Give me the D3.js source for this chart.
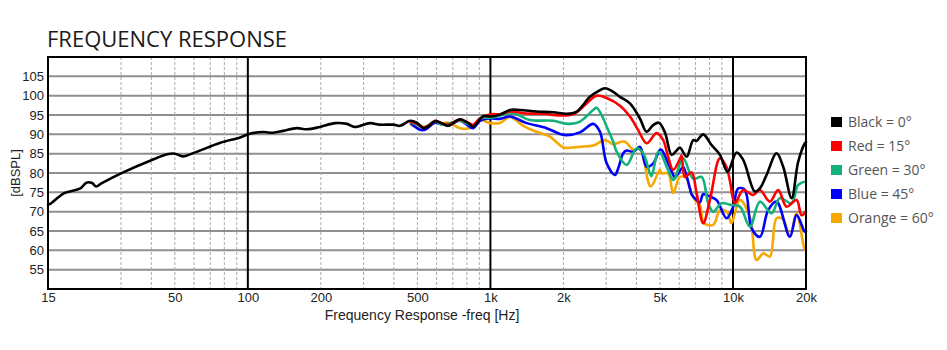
<!DOCTYPE html>
<html>
<head>
<meta charset="utf-8">
<script src="https://cdn.jsdelivr.net/npm/d3@7"></script>
<style>
  html, body { margin: 0; padding: 0; background: #fff; }
  svg { display: block; }
  .tick text { font-family: "Liberation Sans", Arial, sans-serif; font-size: 13px; fill: #222; }
</style>
</head>
<body>
<svg id="chart" width="947" height="350"></svg>
<script>
// Frequency response of a loudspeaker measured at five off-axis angles.
// Each series: [frequency in Hz, level in dBSPL].

const black0 = [
  [15,71.8],[15.3,72],[17.5,74.8],[20.4,76.0],[21.6,77.5],[22.8,77.4],[23.7,76.5],[24.9,77.3],
  [30,79.9],[40,83.3],[47,84.9],[50,85.0],[54,84.3],[61,85.4],[77,87.8],[93,89.2],[101,90.1],
  [116,90.6],[127,90.4],[140,90.9],[159,91.6],[175,91.3],[198,91.9],[229,92.9],[256,92.7],
  [276,91.9],[319,92.9],[350,92.5],[398,92.5],[424,92.2],[466,93.5],[497,93.0],[529,91.6],
  [554,92.0],[591,93.4],[630,92.9],[670,92.2],[749,93.9],[810,92.9],[850,92.0],[934,94.7],
  [1012,94.6],[1094,95.1],[1203,96.3],[1323,96.3],[1550,95.9],[1816,95.7],[2062,95.3],
  [2267,95.9],[2572,99.7],[2740,100.9],[2966,101.9],[3209,101.0],[3420,99.7],[3760,98.0],
  [4133,94.1],[4404,90.7],[4690,92.4],[4950,93.0],[5241,90.5],[5585,84.7],[5856,85.8],
  [6042,86.6],[6439,84.2],[6855,88.5],[7079,88.3],[7538,90.0],[8165,87.2],[8835,84.7],
  [9500,80.3],[10350,85.3],[11019,83.4],[12313,75.2],[12911,76.0],[13758,79.5],[15127,85.1],
  [16106,81.6],[17443,73.5],[18570,82.9],[19788,87.7],[20000,88.0]
];

const red15 = [
  [470,93.2],[497,92.8],[529,91.8],[554,92.2],[591,93.5],[630,92.8],[670,92.5],[749,93.8],
  [810,93.0],[850,92.5],[905,94.1],[1000,95.2],[1094,95.2],[1203,95.9],[1411,95.4],
  [1705,95.3],[1816,95.0],[2195,95.2],[2492,98.0],[2740,100.0],[3014,99.4],[3420,97.4],
  [3760,94.6],[4067,91.1],[4404,87.7],[4843,90.3],[5157,88.5],[5400,84.2],[5670,80.8],
  [6042,83.6],[6140,84.5],[6336,79.0],[6751,80.2],[7079,74.8],[7538,67.0],[8034,73.0],
  [8835,83.8],[9413,81.5],[9713,78.0],[10184,72.2],[11019,75.6],[12116,74.3],[12911,75.6],
  [14196,72.6],[15359,75.6],[16634,71.3],[18290,73.0],[19178,69.1],[20000,70.0]
];

const green30 = [
  [470,93.0],[497,92.6],[529,91.8],[591,93.3],[630,92.5],[670,92.8],[749,93.5],[850,92.3],
  [905,94.1],[1000,94.3],[1242,95.4],[1455,93.7],[1816,93.5],[1997,92.9],[2127,92.7],
  [2339,93.3],[2653,96.3],[2740,96.9],[2918,94.1],[3014,92.0],[3209,88.1],[3314,85.5],
  [3644,82.1],[4006,86.4],[4265,85.1],[4545,79.9],[4619,79.2],[4917,85.5],[5079,84.7],
  [5326,81.6],[5670,78.2],[5762,78.6],[6234,83.8],[6855,78.5],[7424,79.0],[7904,72.2],
  [8290,70.0],[8978,72.2],[9713,71.8],[10679,71.3],[11742,66.1],[12911,72.6],[14427,69.6],
  [15612,73.5],[17443,72.2],[18570,76.9],[20000,77.8]
];

const blue45 = [
  [470,92.8],[512,91.2],[537,91.2],[591,93.0],[630,92.6],[670,92.4],[749,93.5],[810,92.2],
  [850,91.6],[905,93.5],[1000,94.1],[1094,94.0],[1203,94.6],[1411,92.9],[1705,91.6],
  [1935,90.1],[2062,89.8],[2339,90.5],[2653,92.7],[2828,90.7],[3014,82.5],[3261,79.5],
  [3365,81.2],[3528,85.1],[3644,85.8],[3879,85.5],[4133,86.8],[4404,81.6],[4690,82.5],
  [4998,86.0],[5079,86.0],[5326,83.4],[5670,79.5],[5762,78.8],[6140,81.2],[6234,81.6],
  [6643,76.0],[6751,74.5],[7079,73.0],[7305,72.4],[7538,74.5],[8034,73.9],[8562,73.0],
  [9413,68.3],[10021,71.3],[10508,76.0],[11198,75.6],[11933,65.7],[12911,63.5],[13969,70.4],
  [15127,72.6],[17164,63.5],[18290,69.1],[19788,64.8],[20000,65.0]
];

const orange60 = [
  [470,92.5],[512,91.8],[554,92.2],[591,93.0],[630,92.8],[670,93.0],[749,91.6],[810,91.5],
  [850,92.2],[905,93.7],[1000,92.9],[1094,92.9],[1203,94.5],[1366,92.2],[1501,91.0],
  [1705,89.8],[1759,89.4],[1997,86.6],[2062,86.5],[2339,86.8],[2653,87.1],[2966,88.5],
  [3209,87.4],[3314,87.7],[3585,88.1],[3879,86.0],[4133,86.2],[4580,76.5],[4998,80.8],
  [5079,79.9],[5408,79.9],[5670,74.8],[6042,79.0],[6439,78.6],[6643,76.0],[6966,73.0],
  [7305,71.7],[7600,67.0],[8290,66.6],[8835,70.4],[9413,70.0],[9713,67.9],[9870,67.0],
  [10679,73.0],[11742,68.7],[12513,57.5],[13322,59.2],[14196,58.4],[15127,68.3],
  [16106,68.0],[17164,63.5],[18290,69.6],[19788,60.1],[20000,60.0]
];

const seriesNames = ["Black = 0°", "Red = 15°", "Green = 30°", "Blue = 45°", "Orange = 60°"];
const seriesColors = ["#000000", "#ff0000", "#14b17a", "#0000ff", "#f6a800"];
const seriesData = [black0, red15, green30, blue45, orange60];

const xTickValues = [15, 50, 100, 200, 500, 1000, 2000, 5000, 10000, 20000];
const xTickLabels = ["15", "50", "100", "200", "500", "1k", "2k", "5k", "10k", "20k"];
const yTickValues = [55, 60, 65, 70, 75, 80, 85, 90, 95, 100, 105];
const minorFreqs = [30, 40, 50, 60, 70, 80, 90, 200, 300, 400, 500, 600, 700, 800, 900,
                    2000, 3000, 4000, 5000, 6000, 7000, 8000, 9000];
const majorFreqs = [100, 1000, 10000];

const svg = d3.select("#chart");
const plot = { left: 48, right: 806, top: 57, bottom: 289 };

const x = d3.scaleLog().domain([15, 20000]).range([plot.left, plot.right]);
const y = d3.scaleLinear().domain([50, 110]).range([plot.bottom, plot.top]);

// Title
svg.append("text")
  .attr("x", 47).attr("y", 47)
  .attr("font-family", "'Open Sans', sans-serif")
  .attr("font-size", 22)
  .attr("font-weight", 500)
  .attr("fill", "#1a1a1a")
  .text("FREQUENCY RESPONSE");

// Grid
const grid = svg.append("g");
grid.selectAll("line.h").data(yTickValues).join("line")
  .attr("x1", plot.left).attr("x2", plot.right)
  .attr("y1", d => y(d)).attr("y2", d => y(d))
  .attr("stroke", "#8f8f8f").attr("stroke-width", 2);
grid.selectAll("line.minor").data(minorFreqs).join("line")
  .attr("x1", d => x(d)).attr("x2", d => x(d))
  .attr("y1", plot.top).attr("y2", plot.bottom)
  .attr("stroke", "#a8a8a8").attr("stroke-width", 1)
  .attr("stroke-dasharray", "3,2");
grid.selectAll("line.major").data(majorFreqs).join("line")
  .attr("x1", d => x(d)).attr("x2", d => x(d))
  .attr("y1", plot.top).attr("y2", plot.bottom)
  .attr("stroke", "#000").attr("stroke-width", 2);

// Curves (0° drawn last so it sits on top)
const line = d3.line()
  .x(d => x(d[0]))
  .y(d => y(d[1]))
  .curve(d3.curveCatmullRom.alpha(0.5));

const order = [4, 3, 2, 1, 0];
svg.append("g").selectAll("path").data(order).join("path")
  .attr("d", i => line(seriesData[i]))
  .attr("fill", "none")
  .attr("stroke", i => seriesColors[i])
  .attr("stroke-width", 2.6)
  .attr("stroke-linejoin", "round")
  .attr("stroke-linecap", "round");

// Frame
svg.append("rect")
  .attr("x", plot.left).attr("y", plot.top)
  .attr("width", plot.right - plot.left).attr("height", plot.bottom - plot.top)
  .attr("fill", "none").attr("stroke", "#000").attr("stroke-width", 2);

// Axes
const xAxis = d3.axisBottom(x)
  .tickValues(xTickValues)
  .tickFormat((d, i) => xTickLabels[i])
  .tickSize(0).tickPadding(4);
svg.append("g")
  .attr("transform", `translate(0,${plot.bottom})`)
  .call(xAxis)
  .call(g => g.select(".domain").remove());

const yAxis = d3.axisLeft(y)
  .tickValues(yTickValues)
  .tickSize(0).tickPadding(4);
svg.append("g")
  .attr("transform", `translate(${plot.left},0)`)
  .call(yAxis)
  .call(g => g.select(".domain").remove());

// Axis titles
svg.append("text")
  .attr("x", 422).attr("y", 320)
  .attr("text-anchor", "middle")
  .attr("font-family", "'Liberation Sans', Arial, sans-serif")
  .attr("font-size", 14)
  .attr("fill", "#222")
  .text("Frequency Response -freq [Hz]");

svg.append("text")
  .attr("transform", "translate(20,173) rotate(-90)")
  .attr("text-anchor", "middle")
  .attr("font-family", "'Liberation Sans', Arial, sans-serif")
  .attr("font-size", 13)
  .attr("fill", "#222")
  .text("[dBSPL]");

// Legend
const legend = svg.append("g").attr("transform", "translate(831,117)");
const rows = legend.selectAll("g").data(seriesNames).join("g")
  .attr("transform", (d, i) => `translate(0,${i * 24})`);
rows.append("rect")
  .attr("width", 11).attr("height", 10)
  .attr("fill", (d, i) => seriesColors[i]);
rows.append("text")
  .attr("x", 17).attr("y", 10)
  .attr("font-family", "'Open Sans', sans-serif")
  .attr("font-size", 14)
  .attr("fill", "#555")
  .text(d => d);
</script>
</body>
</html>
